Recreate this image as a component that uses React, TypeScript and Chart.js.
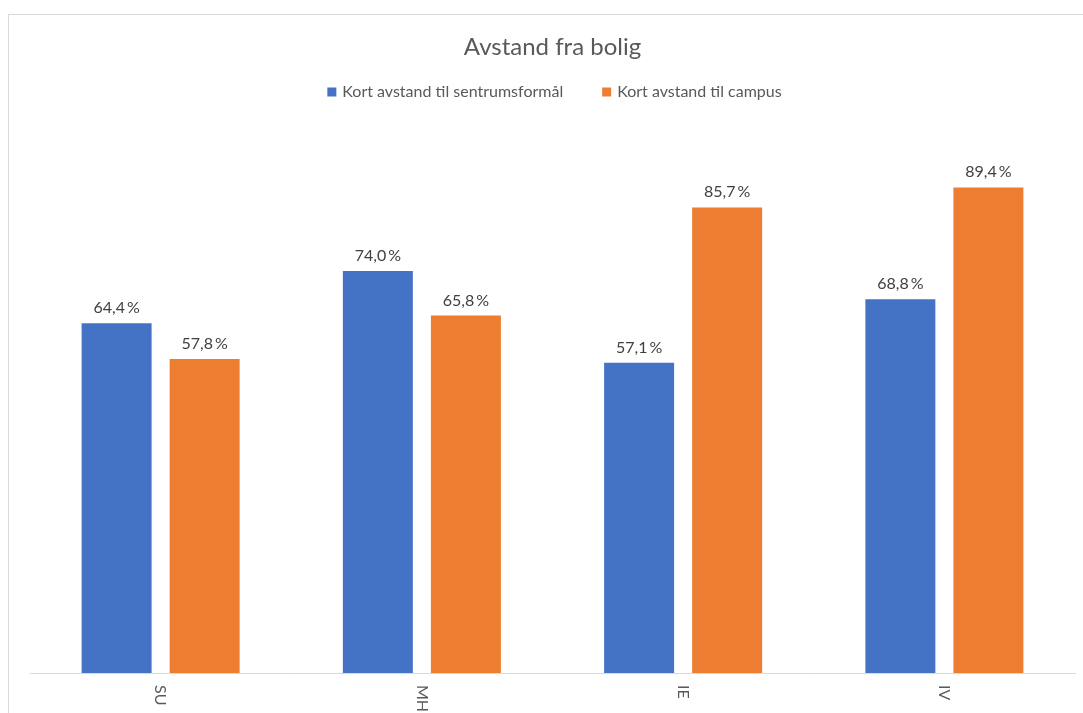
import React, { useEffect, useRef } from "react";
import { Chart, registerables } from "chart.js";

Chart.register(...registerables);

const categories = ["SU", "MH", "IE", "IV"];
const seriesNames = ["Kort avstand til sentrumsformål", "Kort avstand til campus"];
const sentrumValues = [64.4, 74.0, 57.1, 68.8];
const campusValues = [57.8, 65.8, 85.7, 89.4];
const seriesColors = ["#4472C4", "#ED7D31"];
const FONT = "Lato, 'Open Sans', sans-serif";

const fmt = (v: number) => v.toFixed(1).replace(".", ",") + "\u2009%";

const labelPlugin = {
  id: "customLabels",
  afterDatasetsDraw(chart: any) {
    const ctx = chart.ctx;
    ctx.save();
    // data labels
    ctx.font = `16px ${FONT}`;
    ctx.fillStyle = "#404040";
    ctx.textAlign = "center";
    ctx.textBaseline = "alphabetic";
    chart.data.datasets.forEach((ds: any, di: number) => {
      const meta = chart.getDatasetMeta(di);
      meta.data.forEach((bar: any, i: number) => {
        ctx.fillText(fmt(ds.data[i]), bar.x, bar.y - 10);
      });
    });
    // rotated category labels (clockwise)
    const xs = chart.scales.x;
    ctx.font = `16px ${FONT}`;
    ctx.fillStyle = "#595959";
    ctx.textAlign = "left";
    ctx.textBaseline = "middle";
    categories.forEach((c, i) => {
      const x = xs.getPixelForValue(i);
      ctx.save();
      ctx.translate(x, chart.chartArea.bottom + 12);
      ctx.rotate(Math.PI / 2);
      ctx.fillText(c, 0, 0);
      ctx.restore();
    });
    // legend
    ctx.font = `16px ${FONT}`;
    ctx.textAlign = "left";
    ctx.textBaseline = "middle";
    const box = 9;
    const gapBoxText = 6;
    const gapItems = 39;
    const widths = seriesNames.map((n) => box + gapBoxText + ctx.measureText(n).width);
    const total = widths.reduce((a, b) => a + b, 0) + gapItems * (seriesNames.length - 1);
    const center = (chart.chartArea.left + chart.chartArea.right) / 2 + 2;
    let x = center - total / 2;
    const y = 92;
    seriesNames.forEach((n, i) => {
      ctx.fillStyle = seriesColors[i];
      ctx.fillRect(x, y - box / 2, box, box);
      ctx.fillStyle = "#595959";
      ctx.fillText(n, x + box + gapBoxText, y);
      x += widths[i] + gapItems;
    });
    ctx.restore();
  },
};

export default function App() {
  const ref = useRef<HTMLCanvasElement>(null);
  useEffect(() => {
    if (!ref.current) return;
    const chart = new Chart(ref.current, {
      type: "bar",
      data: {
        labels: categories,
        datasets: [
          {
            label: seriesNames[0],
            data: sentrumValues,
            backgroundColor: seriesColors[0],
            categoryPercentage: 0.674,
            barPercentage: 0.795,
          },
          {
            label: seriesNames[1],
            data: campusValues,
            backgroundColor: seriesColors[1],
            categoryPercentage: 0.674,
            barPercentage: 0.795,
          },
        ],
      },
      options: {
        animation: false,
        responsive: false,
        maintainAspectRatio: false,
        layout: { padding: { left: 30, right: 8, top: 15, bottom: 32 } },
        plugins: {
          title: {
            display: true,
            text: "Avstand fra bolig",
            color: "#595959",
            font: { family: FONT, size: 24, weight: "normal" },
            padding: { top: 18, bottom: 68 },
          },
          legend: { display: false },
          tooltip: { enabled: false },
        },
        scales: {
          x: {
            grid: { display: false },
            border: { display: true, color: "#d9d9d9", width: 1 },
            ticks: { display: false },
          },
          y: {
            display: false,
            min: 0,
            max: 100,
          },
        },
      },
      plugins: [labelPlugin],
    });
    return () => chart.destroy();
  }, []);
  return (
    <div style={{ position: "absolute", left: 0, top: 0, width: 1083, height: 713, overflow: "hidden", background: "#fff" }}>
      <div
        style={{
          position: "absolute",
          left: 8,
          top: 14,
          width: 1200,
          height: 800,
          border: "1.5px solid #d9d9d9",
        }}
      />
      <canvas ref={ref} width={1083} height={713} style={{ position: "absolute", left: 0, top: 0, width: 1083, height: 713 }} />
    </div>
  );
}
